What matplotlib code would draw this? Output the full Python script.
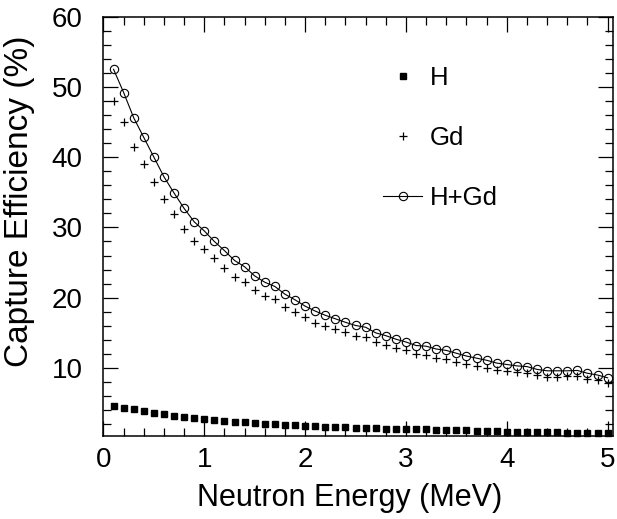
import numpy as np
import matplotlib
matplotlib.use("Agg")
import matplotlib.pyplot as plt
from matplotlib.ticker import MultipleLocator

plt.rcParams['font.family'] = ['Liberation Sans', 'DejaVu Sans']

# neutron energy bins (MeV)
energy = np.round(np.arange(1, 51) * 0.1, 1)

# capture efficiency on hydrogen (%)
eff_h = [4.65, 4.35, 4.15, 3.85, 3.6, 3.4, 3.2, 3.05, 2.9, 2.7,
         2.6, 2.45, 2.35, 2.25, 2.15, 2.05, 1.98, 1.9, 1.82, 1.75,
         1.7, 1.65, 1.6, 1.55, 1.5, 1.46, 1.42, 1.38, 1.35, 1.32,
         1.28, 1.25, 1.22, 1.18, 1.15, 1.12, 1.08, 1.04, 0.98, 0.95,
         0.93, 0.9, 0.88, 0.86, 0.84, 0.82, 0.8, 0.78, 0.75, 0.72]

# capture efficiency on gadolinium (%)
eff_gd = [48.0, 45.0, 41.5, 39.0, 36.5, 34.0, 31.9, 29.8, 28.1, 26.9,
          25.6, 24.3, 23.0, 22.3, 21.1, 20.2, 19.8, 18.7, 17.9, 17.2,
          16.4, 16.0, 15.5, 15.1, 14.6, 14.4, 13.7, 13.3, 12.9, 12.5,
          12.0, 11.9, 11.4, 11.3, 10.9, 10.5, 10.3, 10.05, 9.7, 9.6,
          9.4, 9.3, 8.95, 8.75, 8.75, 8.8, 8.85, 8.45, 8.25, 7.9]

# total capture efficiency H+Gd (%)
eff_tot = [52.5, 49.2, 45.6, 42.8, 40.0, 37.2, 34.9, 32.7, 30.8, 29.5,
           28.0, 26.7, 25.3, 24.4, 23.1, 22.2, 21.6, 20.5, 19.7, 18.8,
           18.1, 17.5, 17.0, 16.5, 16.05, 15.8, 15.0, 14.6, 14.1, 13.7,
           13.2, 13.1, 12.7, 12.5, 12.1, 11.7, 11.4, 11.1, 10.7, 10.5,
           10.3, 10.2, 9.8, 9.6, 9.6, 9.6, 9.65, 9.25, 9.0, 8.6]

fig = plt.figure(figsize=(6.17, 5.19), dpi=100)
ax = fig.add_axes([0.1677, 0.160, 0.8253, 0.808])

ax.plot(energy, eff_h, ls='none', marker='s', ms=4.6, color='black',
        label='H', clip_on=False)
ax.plot(energy, eff_gd, ls='none', marker='+', ms=5.5, mew=0.9, color='black',
        label='Gd', clip_on=False)
ax.plot(energy, eff_tot, ls='-', lw=0.8, marker='o', ms=6, mew=0.8,
        mfc='none', color='black', label='H+Gd', clip_on=False)

ax.set_xlim(0, 5.05)
ax.set_ylim(0.33, 60)

ax.xaxis.set_major_locator(MultipleLocator(1))
ax.xaxis.set_minor_locator(MultipleLocator(0.2))
ax.yaxis.set_major_locator(MultipleLocator(10))
ax.yaxis.set_minor_locator(MultipleLocator(2))

ax.tick_params(which='both', direction='in', top=True, right=True, width=0.9)
ax.tick_params(which='major', length=10.5)
ax.tick_params(which='minor', length=5.5)
ax.tick_params(axis='x', labelsize=20, pad=8)
ax.tick_params(axis='y', labelsize=20, pad=15)
for sp in ax.spines.values():
    sp.set_linewidth(1.1)

ax.set_xlabel('Neutron Energy (MeV)', fontsize=22)
ax.set_ylabel('Capture Efficiency (%)', fontsize=24)
ax.xaxis.set_label_coords(0.483, -0.112)
ax.yaxis.set_label_coords(-0.135, 0.56)

ax.legend(loc='upper left', bbox_to_anchor=(0.504, 0.937), frameon=False,
          fontsize=18.5, labelspacing=1.39, handlelength=1.5, handletextpad=0.3,
          numpoints=1)

fig.savefig('out.png', dpi=100)
